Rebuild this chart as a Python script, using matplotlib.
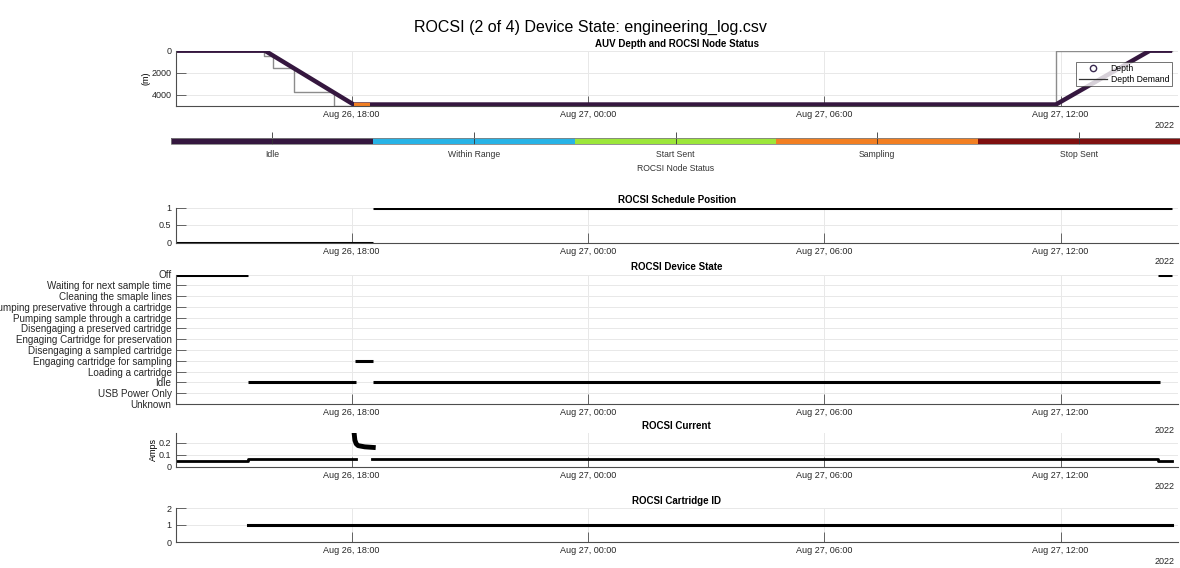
import pandas as pd
import matplotlib
matplotlib.use('Agg')
import matplotlib.pyplot as plt
import matplotlib.dates as mdates
from matplotlib.colors import ListedColormap, BoundaryNorm
from matplotlib.cm import ScalarMappable
from matplotlib.lines import Line2D

plt.rcParams['font.family'] = ['Liberation Sans', 'DejaVu Sans']

T = lambda s: pd.Timestamp('2022-08-' + s)

# --- data ---
t_start, t_end = T('26 13:32'), T('27 14:59')

depth_times = [T('26 13:32'), T('26 15:48'), T('26 18:03'), T('27 11:53'), T('27 14:16'), T('27 14:50')]
depth_vals = [0, 0, 4865, 4865, 0, 0]
sampling_times = [T('26 18:04'), T('26 18:28')]
sampling_depth = [4865, 4865]

demand_times = [T('26 13:32'), T('26 15:46'), T('26 16:00'), T('26 16:32'), T('26 17:33'), T('27 11:53'), T('27 14:50')]
demand_vals = [0, 480, 1530, 3690, 5000, 0, 0]

node_status = ['Idle', 'Within Range', 'Start Sent', 'Sampling', 'Stop Sent']
node_colors = ['#35173f', '#27b3e6', '#9ce63a', '#f27f22', '#7f0f0f']

sched_start = [T('26 13:32'), T('26 18:32')]
sched_end = [T('26 18:33'), T('27 14:50')]
sched_val = [0, 1]

device_states = ['Unknown', 'USB Power Only', 'Idle', 'Loading a cartridge',
                 'Engaging cartridge for sampling', 'Disengaging a sampled cartridge',
                 'Engaging Cartridge for preservation', 'Disengaging a preserved cartridge',
                 'Pumping sample through a cartridge', 'Pumping preservative through a cartridge',
                 'Cleaning the smaple lines', 'Waiting for next sample time', 'Off']
dev_start = [T('26 13:32'), T('26 15:22'), T('26 18:05'), T('26 18:32'), T('27 14:28')]
dev_end = [T('26 15:22'), T('26 18:07'), T('26 18:33'), T('27 14:31'), T('27 14:50')]
dev_state = ['Off', 'Idle', 'Engaging cartridge for sampling', 'Idle', 'Off']

cur1_times = [T('26 13:32'), T('26 15:22'), T('26 18:06')]
cur1_vals = [0.047, 0.065, 0.065]
spike_times = [T('26 18:04'), T('26 18:05'), T('26 18:07'), T('26 18:10'), T('26 18:20'), T('26 18:33')]
spike_vals = [0.27, 0.22, 0.19, 0.175, 0.165, 0.16]
cur2_times = [T('26 18:31'), T('27 14:28'), T('27 14:50')]
cur2_vals = [0.065, 0.047, 0.047]

cart_times = [T('26 15:22'), T('27 14:50')]
cart_vals = [1, 1]

W, H = 1180, 568
fig = plt.figure(figsize=(W / 100, H / 100), dpi=100)

def pos(top, bottom, left=175.7, right=1178):
    return [left / W, 1 - bottom / H, (right - left) / W, (bottom - top) / H]

GRID = '#e8e8e8'
AXC = '#4d4d4d'

def style(ax, title, year_off=-14):
    for s in ['top', 'right']:
        ax.spines[s].set_visible(False)
    for s in ['left', 'bottom']:
        ax.spines[s].set_color(AXC)
        ax.spines[s].set_linewidth(0.8)
    ax.set_xlim(t_start, t_end)
    ax.xaxis.set_major_locator(mdates.HourLocator(byhour=[0, 6, 12, 18]))
    ax.xaxis.set_major_formatter(mdates.DateFormatter('%b %d, %H:%M'))
    ax.tick_params(direction='in', length=7, width=0.6, color=AXC, labelsize=6.5,
                   labelcolor='#262626', pad=3)
    ax.grid(True, color=GRID, lw=0.7)
    ax.set_axisbelow(True)
    ax.set_title(title, fontsize=7, fontweight='bold', pad=3)
    ax.annotate('2022', xy=(0.997, 0), xycoords='axes fraction', xytext=(0, year_off),
                textcoords='offset points', ha='right', va='center', fontsize=6.5,
                color='#262626')

fig.suptitle('ROCSI (2 of 4) Device State: engineering_log.csv', y=1 - 20 / H,
             fontsize=11.5)

# depth
ax1 = fig.add_axes(pos(50.7, 106))
ax1.plot(demand_times, demand_vals, drawstyle='steps-post', color='#8c8c8c', lw=1)
ax1.plot(depth_times, depth_vals, color=node_colors[0], lw=3.2, solid_capstyle='butt')
ax1.plot(sampling_times, sampling_depth, color=node_colors[3], lw=3.2, solid_capstyle='butt')
ax1.set_ylim(5000, 0)
ax1.set_yticks([0, 2000, 4000])
ax1.set_ylabel('(m)', fontsize=6.5, labelpad=1)
style(ax1, 'AUV Depth and ROCSI Node Status')
handles = [Line2D([], [], ls='none', marker='o', mfc='white', mec='#3a2a50', ms=4.5),
           Line2D([], [], color='#333333', lw=0.9)]
leg = ax1.legend(handles, ['Depth', 'Depth Demand'], loc='upper right', fontsize=6.2,
                 frameon=True, fancybox=False, borderpad=0.3, handlelength=3.3,
                 handletextpad=0.4, labelspacing=0.15, bbox_to_anchor=(0.998, 0.88))
leg.get_frame().set_edgecolor('#333333')
leg.get_frame().set_linewidth(0.6)

# node status colour bar
cax = fig.add_axes(pos(137.5, 143.5, left=171, right=1180))
cmap = ListedColormap(node_colors)
norm = BoundaryNorm(range(len(node_status) + 1), cmap.N)
cb = fig.colorbar(ScalarMappable(norm=norm, cmap=cmap), cax=cax, orientation='horizontal',
                  ticks=[i + 0.5 for i in range(len(node_status))])
cb.set_ticklabels(node_status)
cb.outline.set_edgecolor('#808080')
cb.outline.set_linewidth(0.6)
cax.minorticks_off()
cax.tick_params(direction='in', length=9, width=0.6, color='#333333', labelsize=6.2,
                labelcolor='#333333', pad=5)
cb.set_label('ROCSI Node Status', fontsize=6.2, color='#333333', labelpad=3)

# schedule position
ax2 = fig.add_axes(pos(207.5, 242.5))
ax2.hlines(sched_val, sched_start, sched_end, color='black', lw=2.2)
ax2.set_ylim(0, 1)
ax2.set_yticks([0, 0.5, 1])
ax2.set_yticklabels(['0', '0.5', '1'])
style(ax2, 'ROCSI Schedule Position')

# device state
ax3 = fig.add_axes(pos(274.5, 404))
ax3.hlines([device_states.index(s) for s in dev_state], dev_start, dev_end, color='black', lw=2.2)
ax3.set_ylim(0, len(device_states) - 1)
ax3.set_yticks(range(len(device_states)))
style(ax3, 'ROCSI Device State', year_off=-19)
ax3.set_yticklabels(device_states, fontsize=7.15)

# current
ax4 = fig.add_axes(pos(433, 466.7))
ax4.plot(cur1_times, cur1_vals, drawstyle='steps-post', color='black', lw=2)
ax4.plot(spike_times, spike_vals, color='black', lw=3.5)
ax4.plot(cur2_times, cur2_vals, drawstyle='steps-post', color='black', lw=2)
ax4.set_ylim(0, 0.28)
ax4.set_yticks([0, 0.1, 0.2])
ax4.set_yticklabels(['0', '0.1', '0.2'])
ax4.set_ylabel('Amps', fontsize=6.5, labelpad=1)
style(ax4, 'ROCSI Current')

# cartridge id
ax5 = fig.add_axes(pos(508, 542))
ax5.plot(cart_times, cart_vals, color='black', lw=2.2)
ax5.set_ylim(0, 2)
ax5.set_yticks([0, 1, 2])
style(ax5, 'ROCSI Cartridge ID')

fig.savefig('out.png', dpi=100)
